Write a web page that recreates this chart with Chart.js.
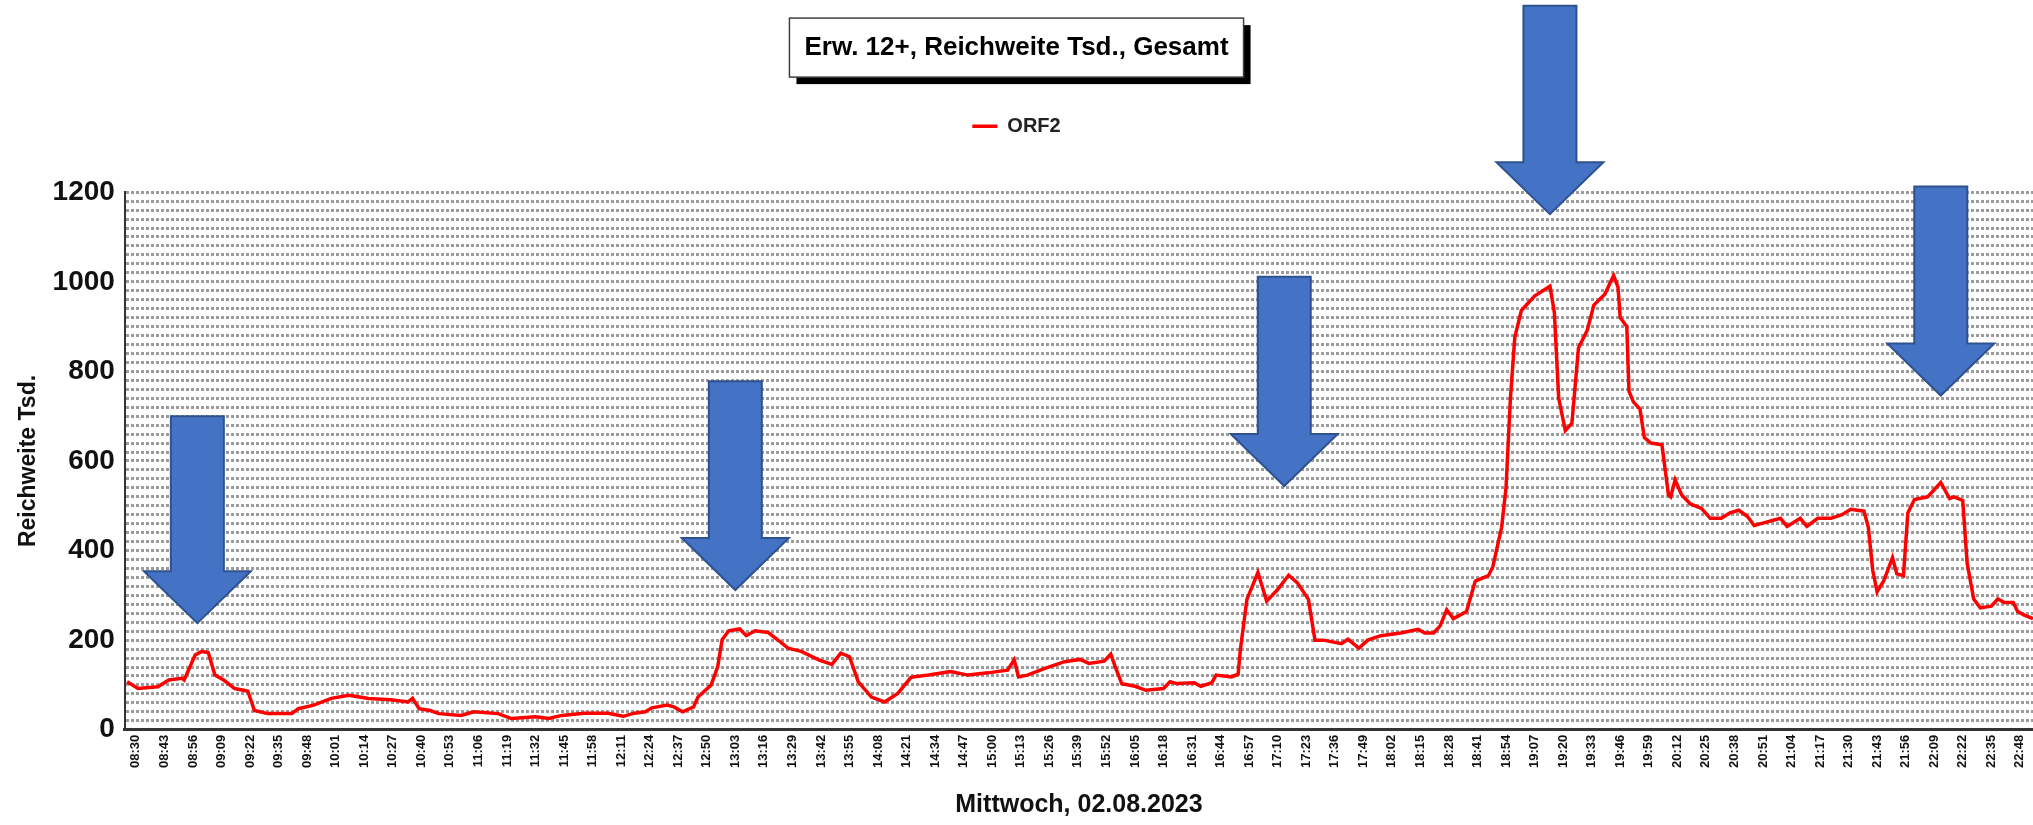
<!DOCTYPE html>
<html>
<head>
<meta charset="utf-8">
<title>Erw. 12+, Reichweite Tsd., Gesamt</title>
<script src="https://cdn.jsdelivr.net/npm/chart.js@4.4.0/dist/chart.umd.min.js"></script>
<style>
  html, body { margin: 0; padding: 0; background: #fff; overflow: hidden; }
  #wrap { width: 2033px; height: 825px; }
</style>
</head>
<body>
<div id="wrap"><canvas id="reachChart" width="2033" height="825"></canvas></div>
<script>
// x-axis labels, one every 13 minutes starting 08:30
const timeLabels = [
  '08:30', '08:43', '08:56', '09:09', '09:22', '09:35', '09:48', '10:01', '10:14', '10:27',
  '10:40', '10:53', '11:06', '11:19', '11:32', '11:45', '11:58', '12:11', '12:24', '12:37',
  '12:50', '13:03', '13:16', '13:29', '13:42', '13:55', '14:08', '14:21', '14:34', '14:47',
  '15:00', '15:13', '15:26', '15:39', '15:52', '16:05', '16:18', '16:31', '16:44', '16:57',
  '17:10', '17:23', '17:36', '17:49', '18:02', '18:15', '18:28', '18:41', '18:54', '19:07',
  '19:20', '19:33', '19:46', '19:59', '20:12', '20:25', '20:38', '20:51', '21:04', '21:17',
  '21:30', '21:43', '21:56', '22:09', '22:22', '22:35', '22:48'
];
const labelStep = 13; // minutes between two labels

// ORF2 reach: minutes after 08:30 and thousands of viewers
const minutes = [
  -4, 1, 10, 15, 21, 22, 27, 30, 33, 36, 40, 45, 49, 51, 54, 60, 71, 74, 81, 89,
  97, 106, 116, 124, 126, 129, 134, 138, 148, 154, 165, 171, 182, 188, 194, 204, 215, 222, 227, 232,
  235, 242, 245, 249, 254, 256, 262, 265, 267, 270, 275, 278, 282, 288, 292, 297, 303, 311, 317, 321,
  325, 329, 335, 341, 347, 353, 361, 371, 379, 388, 397, 400, 402, 406, 414, 423, 430, 434, 441, 444,
  446, 449, 455, 460, 468, 471, 474, 482, 485, 490, 492, 499, 502, 503, 506, 511, 515, 520, 525, 529,
  534, 537, 541, 549, 552, 557, 561, 567, 576, 584, 587, 591, 594, 597, 600, 606, 610, 616, 618, 622,
  624, 626, 628, 631, 637, 644, 646, 648, 651, 654, 657, 661, 664, 669, 673, 675, 676, 679, 680, 682,
  685, 687, 690, 695, 698, 699, 701, 704, 708, 713, 717, 722, 726, 730, 734, 737, 743, 749, 752, 758,
  761, 766, 772, 777, 781, 787, 789, 791, 793, 796, 800, 802, 805, 807, 810, 816, 822, 826, 828, 832,
  834, 837, 840, 845, 848, 851, 855, 857, 860, 864
];
const reach = [
  107, 92, 96, 111, 115, 111, 167, 175, 172, 122, 111, 92, 88, 86, 43, 36, 36, 47, 55, 70,
  77, 70, 67, 62, 70, 47, 43, 36, 32, 40, 36, 25, 29, 25, 32, 37, 37, 30, 37, 40,
  49, 55, 51, 40, 51, 73, 100, 141, 201, 221, 225, 210, 221, 217, 202, 182, 175, 156, 146, 171,
  163, 107, 73, 62, 81, 117, 122, 130, 122, 127, 133, 156, 118, 122, 137, 152, 157, 148, 153, 169,
  141, 103, 97, 88, 92, 107, 103, 105, 97, 105, 122, 118, 124, 178, 291, 351, 287, 313, 345, 328,
  291, 200, 200, 192, 202, 182, 200, 210, 216, 224, 216, 216, 232, 268, 248, 264, 332, 344, 364, 452,
  540, 740, 876, 936, 968, 990, 932, 740, 668, 684, 852, 892, 948, 972, 1014, 988, 920, 900, 756, 732,
  716, 652, 640, 636, 524, 520, 558, 524, 504, 494, 472, 472, 484, 490, 476, 456, 464, 472, 454, 472,
  454, 472, 472, 480, 492, 488, 452, 356, 308, 332, 384, 348, 344, 484, 514, 520, 552, 516, 520, 512,
  372, 292, 272, 276, 292, 284, 284, 264, 256, 248
];

// blue arrows pointing at the peaks (minute, tail value, tip value)
const arrowMarks = [
  { at: 28, tail: 700, tip: 238 },
  { at: 273, tail: 778, tip: 312 },
  { at: 523, tail: 1011, tip: 544 },
  { at: 644, tail: 1616, tip: 1151 },
  { at: 822, tail: 1213, tip: 746 }
];

const FONT = "'Liberation Sans', Arial, sans-serif";
const TITLE = 'Erw. 12+, Reichweite Tsd., Gesamt';
const TITLE_SIZE = 26;
const TITLE_PAD_TOP = 32;

Chart.defaults.font.family = FONT;
Chart.defaults.color = '#111';

// white box with a hard black shadow behind the title
const titleBox = {
  id: 'titleBox',
  beforeDraw(chart) {
    const ctx = chart.ctx;
    const block = chart.titleBlock;
    ctx.save();
    ctx.font = 'bold ' + TITLE_SIZE + 'px ' + FONT;
    const w = ctx.measureText(TITLE).width + 30;
    const h = 59;
    const cx = (block.left + block.right) / 2;
    const cy = block.top + TITLE_PAD_TOP + TITLE_SIZE * 1.2 / 2;
    const x = cx - w / 2, y = cy - h / 2;
    ctx.fillStyle = '#000';
    ctx.fillRect(x + 7, y + 7, w, h);
    ctx.fillStyle = '#fff';
    ctx.fillRect(x, y, w, h);
    ctx.strokeStyle = '#404040';
    ctx.lineWidth = 1.5;
    ctx.strokeRect(x, y, w, h);
    ctx.restore();
  }
};

const arrows = {
  id: 'arrows',
  afterDraw(chart) {
    const {ctx, scales: {x, y}} = chart;
    const shaft = 53, head = 107, headLen = 52;
    ctx.save();
    ctx.fillStyle = '#4472C4';
    ctx.strokeStyle = '#2F528F';
    ctx.lineWidth = 2;
    ctx.lineJoin = 'miter';
    arrowMarks.forEach(a => {
      const cx = x.getPixelForValue(a.at);
      const top = y.getPixelForValue(a.tail);
      const tip = y.getPixelForValue(a.tip);
      const base = tip - headLen;
      ctx.beginPath();
      ctx.moveTo(cx - shaft / 2, top);
      ctx.lineTo(cx + shaft / 2, top);
      ctx.lineTo(cx + shaft / 2, base);
      ctx.lineTo(cx + head / 2, base);
      ctx.lineTo(cx, tip);
      ctx.lineTo(cx - head / 2, base);
      ctx.lineTo(cx - shaft / 2, base);
      ctx.closePath();
      ctx.fill();
      ctx.stroke();
    });
    ctx.restore();
  }
};

// push the plot down a bit below the legend
const legendGap = {
  id: 'legendGap',
  beforeInit(chart) {
    const fit = chart.legend.fit;
    chart.legend.fit = function () {
      fit.call(this);
      this.height += 46;
    };
  }
};

new Chart(document.getElementById('reachChart'), {
  type: 'line',
  data: {
    datasets: [{
      label: 'ORF2',
      data: minutes.map((m, i) => ({ x: m, y: reach[i] })),
      borderColor: '#ff0000',
      backgroundColor: '#ff0000',
      borderWidth: 3.5,
      pointRadius: 0,
      tension: 0,
      fill: false
    }]
  },
  options: {
    responsive: false,
    animation: false,
    devicePixelRatio: 1,
    layout: { padding: { left: -16, top: 0, bottom: 0, right: -16 } },
    plugins: {
      title: {
        display: true,
        text: TITLE,
        color: '#000',
        font: { size: TITLE_SIZE, weight: 'bold' },
        padding: { top: TITLE_PAD_TOP, bottom: 43 }
      },
      legend: {
        display: true,
        labels: {
          usePointStyle: true,
          pointStyle: 'line',
          pointStyleWidth: 25,
          color: '#222',
          font: { size: 20, weight: 'bold' },
          padding: 10
        }
      },
      tooltip: { enabled: false }
    },
    scales: {
      x: {
        type: 'linear',
        min: -5,
        max: 864,
        afterBuildTicks: axis => {
          axis.ticks = timeLabels.map((t, i) => ({ value: i * labelStep }));
        },
        // the plot runs right up to the edge of the picture
        afterFit: axis => { axis.paddingRight = 0; },
        ticks: {
          autoSkip: false,
          minRotation: 90,
          maxRotation: 90,
          padding: 5,
          color: '#111',
          font: { size: 13, weight: 'bold' },
          callback: (v, i) => timeLabels[i]
        },
        grid: { display: false, drawTicks: false },
        border: { display: true, color: '#333', width: 3 },
        title: {
          display: true,
          text: 'Mittwoch, 02.08.2023',
          color: '#111',
          font: { size: 25, weight: 'bold' },
          padding: { top: 17, bottom: 5 }
        }
      },
      y: {
        min: 0,
        max: 1200,
        ticks: {
          stepSize: 20,
          autoSkip: false,
          padding: 10,
          color: '#111',
          font: { size: 28, weight: 'bold' },
          callback: v => (v % 200 === 0 ? v : '')
        },
        grid: { color: '#9c9c9c', lineWidth: 3, drawTicks: false },
        border: { display: true, color: '#333', width: 2, dash: [3, 2] },
        title: {
          display: true,
          text: 'Reichweite Tsd.',
          color: '#111',
          font: { size: 23, weight: 'bold' },
          padding: { top: 31, bottom: 0 }
        }
      }
    }
  },
  plugins: [titleBox, arrows, legendGap]
});
</script>
</body>
</html>
